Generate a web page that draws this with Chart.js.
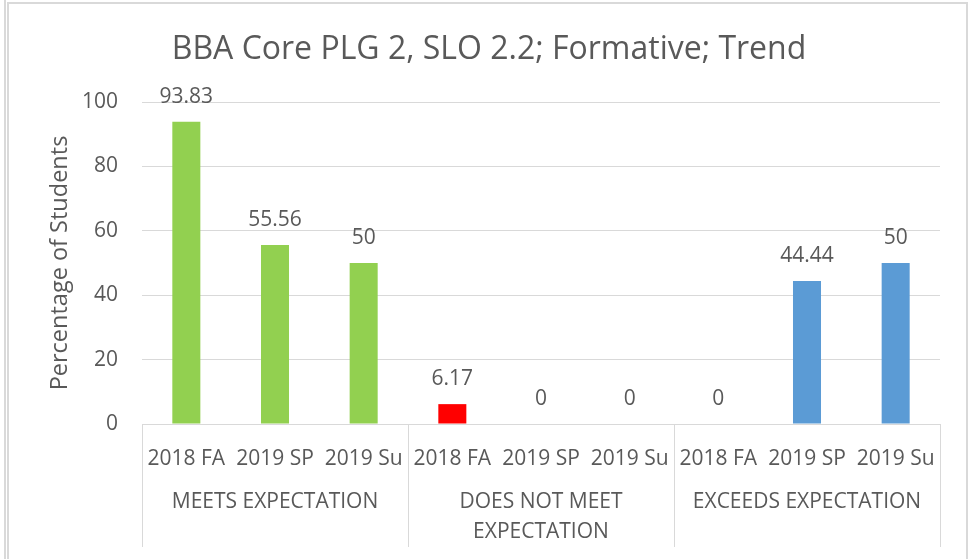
<!DOCTYPE html>
<html>
<head>
<meta charset="utf-8">
<script src="https://cdn.jsdelivr.net/npm/chart.js@4.4.1/dist/chart.umd.min.js"></script>
<style>
  html, body { margin: 0; padding: 0; background: #fff; }
  #wrap { width: 970px; height: 559px; position: relative; }
</style>
</head>
<body>
<div id="wrap"><canvas id="myChart" width="970" height="559"></canvas></div>
<script>
const chartTitle = 'BBA Core PLG 2, SLO 2.2; Formative; Trend';
const yTitle = 'Percentage of Students';
const terms = ['2018 FA', '2019 SP', '2019 Su'];
const groups = [['MEETS EXPECTATION'], ['DOES NOT MEET', 'EXPECTATION'], ['EXCEEDS EXPECTATION']];
const meets = [93.83, 55.56, 50];
const doesNotMeet = [6.17, 0, 0];
const exceeds = [0, 44.44, 50];
const groupColors = ['#92D050', '#FF0000', '#5B9BD5'];
const yMin = 0, yMax = 100, yStep = 20;

const FONT = '"Open Sans", sans-serif';
const TEXT = '#595959';
const GRID = '#d9d9d9';

const labels = [];
const values = [];
const colors = [];
[meets, doesNotMeet, exceeds].forEach((series, g) => {
    series.forEach((v, i) => {
        labels.push(terms[i]);
        values.push(v);
        colors.push(groupColors[g]);
    });
});

// title, outer frame, value labels, group labels and dividers
const decorations = {
    id: 'decorations',
    beforeDraw(chart) {
        const ctx = chart.ctx;
        ctx.save();
        ctx.fillStyle = '#fff';
        ctx.fillRect(0, 0, chart.width, chart.height);
        ctx.strokeStyle = GRID;
        ctx.lineWidth = 2;
        ctx.beginPath();
        ctx.moveTo(5, 0);
        ctx.lineTo(5, chart.height);
        ctx.stroke();
        ctx.strokeRect(8, 3, 959, 600);
        ctx.restore();
    },
    afterDraw(chart) {
        const ctx = chart.ctx;
        const x = chart.scales.x;
        const area = chart.chartArea;
        ctx.save();

        ctx.fillStyle = TEXT;
        ctx.font = '32px ' + FONT;
        ctx.textAlign = 'center';
        ctx.textBaseline = 'alphabetic';
        ctx.fillText(chartTitle, 489, 59);

        // value labels
        const meta = chart.getDatasetMeta(0);
        ctx.font = '21px ' + FONT;
        ctx.textBaseline = 'middle';
        meta.data.forEach((bar, i) => {
            ctx.fillText(String(values[i]), bar.x, bar.y - 25);
        });

        // group dividers
        const step = (x.right - x.left) / labels.length;
        ctx.strokeStyle = GRID;
        ctx.lineWidth = 1;
        for (let g = 0; g <= groups.length; g++) {
            const px = Math.round(x.left + g * terms.length * step) + 0.5;
            ctx.beginPath();
            ctx.moveTo(px, area.bottom);
            ctx.lineTo(px, 547);
            ctx.stroke();
        }

        // group labels
        ctx.fillStyle = TEXT;
        ctx.font = '21px ' + FONT;
        groups.forEach((lines, g) => {
            const cx = x.left + (g * terms.length + terms.length / 2) * step;
            lines.forEach((line, j) => {
                ctx.fillText(line, cx, 502 + j * 30);
            });
        });
        ctx.restore();
    }
};

new Chart(document.getElementById('myChart').getContext('2d'), {
    type: 'bar',
    data: {
        labels: labels,
        datasets: [{
            data: values,
            backgroundColor: colors,
            barPercentage: 0.316,
            categoryPercentage: 1
        }]
    },
    options: {
        responsive: false,
        animation: false,
        layout: { padding: { top: 102, right: 30, left: 0, bottom: 0 } },
        plugins: {
            legend: { display: false },
            title: { display: false },
            tooltip: { enabled: false }
        },
        scales: {
            x: {
                grid: { display: false },
                border: { display: true, color: GRID },
                ticks: {
                    color: TEXT,
                    font: { family: FONT, size: 21 },
                    padding: 14,
                    maxRotation: 0,
                    autoSkip: false
                },
                afterFit(s) { s.height = 135; }
            },
            y: {
                min: yMin,
                max: yMax,
                grid: { color: GRID, drawTicks: false },
                border: { display: false },
                ticks: {
                    stepSize: yStep,
                    color: TEXT,
                    font: { family: FONT, size: 21 },
                    padding: 24
                },
                title: {
                    display: true,
                    text: yTitle,
                    color: TEXT,
                    font: { family: FONT, size: 23.5 },
                    padding: { top: 46, bottom: 0 }
                },
                afterFit(s) { s.width = 142; }
            }
        }
    },
    plugins: [decorations]
});
</script>
</body>
</html>
